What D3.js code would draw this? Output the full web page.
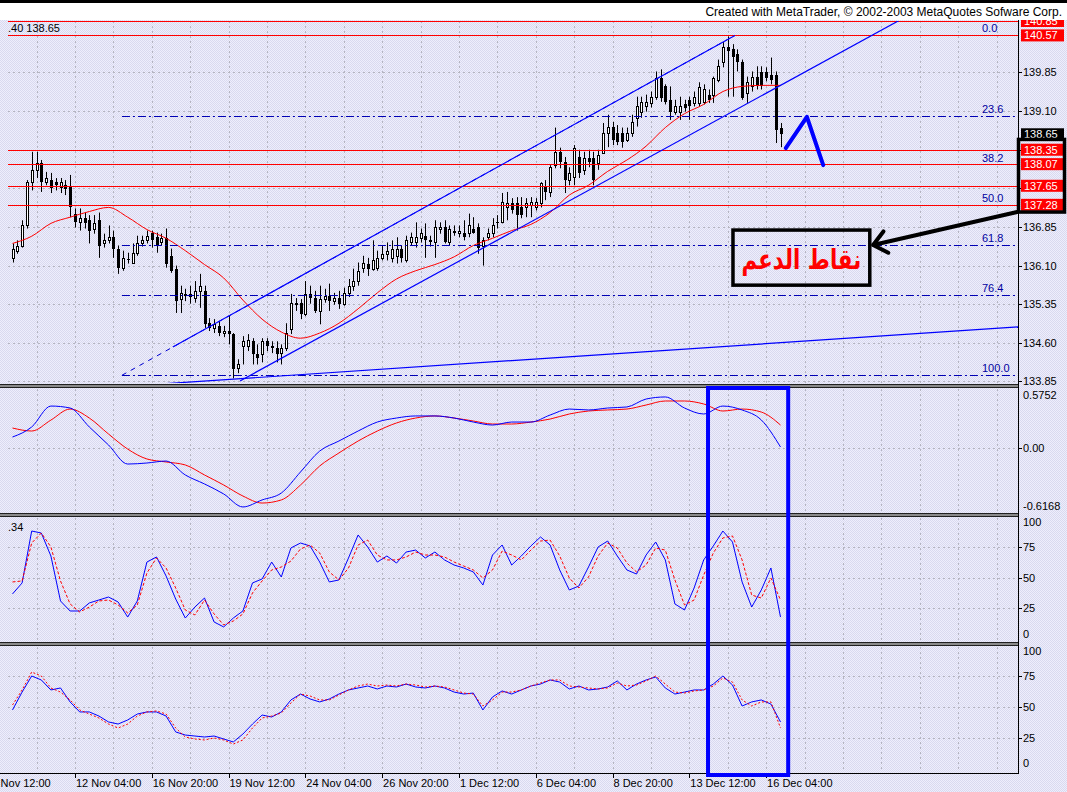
<!DOCTYPE html>
<html>
<head>
<meta charset="utf-8">
<title>USDJPY H4</title>
<script src="https://cdn.jsdelivr.net/npm/d3@7/dist/d3.min.js"></script>
<style>
  body { margin: 0; background: #ffffff; }
  #chart-container svg { display: block; }
  text { font-family: "Liberation Sans", Arial, sans-serif; font-size: 11px; }
</style>
</head>
<body>
<div id="chart-container"></div>
<script>
// ---------- data ----------
// 4H candles, bar index 0 = first visible bar
const barOpen = [
  136.24,136.39,136.49,136.88,137.72,137.96,138.09,137.72,137.76,137.72,
  137.62,137.66,137.62,137.11,136.94,137.02,136.98,136.82,136.98,136.53,
  136.59,136.65,136.43,136.06,136.23,136.16,136.35,136.53,136.59,136.74,
  136.65,136.55,136.63,136.29,136.04,135.45,135.55,135.51,135.47,135.61,
  135.61,134.98,134.89,134.93,134.79,134.83,134.77,134.11,134.54,134.54,
  134.63,134.38,134.38,134.63,134.54,134.50,134.40,134.50,134.87,135.36,
  135.38,135.16,135.55,135.47,135.22,135.45,135.51,135.41,135.47,135.36,
  135.57,135.71,135.80,136.06,136.14,136.04,136.06,136.25,136.33,136.25,
  136.29,136.43,136.20,136.55,136.55,136.63,136.68,136.59,136.55,136.82,
  136.84,136.55,136.78,136.74,136.74,136.74,136.82,136.84,136.49,136.65,
  136.74,136.94,136.94,137.23,137.31,137.31,137.23,137.23,137.27,137.23,
  137.31,137.62,137.53,138.05,138.31,138.11,137.76,137.82,138.21,137.95,
  138.19,138.19,138.09,138.29,138.68,138.80,138.68,138.68,138.54,138.68,
  138.97,139.09,139.19,139.26,139.38,139.75,139.58,139.32,139.09,139.09,
  139.23,139.32,139.26,139.26,139.28,139.42,139.42,139.71,140.05,140.34,
  140.30,140.20,140.05,139.46,139.58,139.77,139.85,139.85,139.81,139.81,
  138.78
];
const barHigh = [
  136.53,136.59,136.98,137.76,138.31,138.31,138.15,137.92,137.90,137.80,
  137.80,137.76,137.86,137.21,137.21,137.13,137.08,137.08,137.13,136.72,
  136.88,136.78,136.49,136.39,136.35,136.53,136.68,136.68,136.78,136.78,
  136.74,136.72,136.82,136.43,136.10,135.71,135.65,135.71,135.80,135.94,
  135.71,135.08,135.06,135.02,134.93,135.12,134.79,134.28,134.73,134.77,
  134.69,134.57,134.69,134.69,134.63,134.63,134.57,134.98,135.55,135.47,
  135.45,135.80,135.71,135.61,135.71,135.65,135.75,135.57,135.61,135.67,
  135.84,136.04,136.16,136.29,136.25,136.59,136.39,136.49,136.55,136.59,
  136.65,136.49,136.68,136.74,136.94,136.82,136.92,136.68,136.98,136.94,
  136.98,136.88,136.88,136.88,136.98,137.11,137.04,136.92,136.65,136.82,
  137.02,137.08,137.51,137.53,137.41,137.43,137.43,137.41,137.43,137.41,
  137.72,137.76,138.05,138.78,138.39,138.21,138.01,138.44,138.35,138.31,
  138.35,138.31,138.35,138.87,139.03,138.89,138.83,138.78,138.78,139.03,
  139.38,139.38,139.42,139.48,139.87,139.91,139.62,139.58,139.32,139.38,
  139.32,139.38,139.48,139.66,139.62,139.52,139.77,140.10,140.44,140.55,
  140.40,140.30,140.10,139.77,139.87,139.97,139.97,139.95,140.14,139.87,
  138.87
];
const barLow = [
  136.16,136.33,136.45,136.82,137.56,137.80,137.53,137.66,137.51,137.56,
  137.51,137.47,137.04,136.84,136.78,136.82,136.53,136.72,136.25,136.45,
  136.53,136.25,135.94,136.00,136.14,136.14,136.29,136.47,136.53,136.45,
  136.35,136.49,136.06,135.96,135.18,135.18,135.41,135.36,135.38,135.28,
  134.89,134.83,134.79,134.73,134.71,134.57,133.91,134.01,134.18,134.44,
  134.18,134.18,134.22,134.44,134.40,134.22,134.18,134.44,134.77,135.22,
  135.06,135.12,135.36,135.18,134.96,135.38,135.22,135.34,135.26,135.32,
  135.49,135.61,135.71,135.96,135.90,136.00,136.00,136.20,136.20,136.16,
  136.14,136.16,136.16,136.49,136.45,136.55,136.25,136.47,136.25,136.72,
  136.53,136.49,136.68,136.65,136.59,136.65,136.72,136.33,136.10,136.59,
  136.65,136.82,136.92,136.98,137.11,136.78,137.02,137.04,137.04,137.17,
  137.23,137.37,137.43,137.99,137.99,137.51,137.66,137.66,137.80,137.86,
  138.01,137.66,137.96,138.29,138.40,138.44,138.44,138.39,138.50,138.60,
  138.80,138.97,139.09,139.17,139.32,139.28,139.23,138.93,139.03,138.93,
  139.09,138.93,139.19,139.19,139.23,139.26,139.26,139.66,139.95,139.38,
  139.38,139.87,139.32,139.26,139.48,139.52,139.52,139.68,139.62,138.48,
  138.40
];
const barClose = [
  136.43,136.49,136.88,137.72,137.96,138.09,137.72,137.80,137.60,137.66,
  137.72,137.58,137.23,136.94,137.02,136.92,136.78,136.92,136.49,136.59,
  136.65,136.43,136.06,136.25,136.20,136.35,136.53,136.59,136.68,136.59,
  136.49,136.63,136.14,136.00,135.41,135.57,135.51,135.55,135.61,135.71,
  134.96,134.89,134.96,134.79,134.83,134.77,134.09,134.18,134.63,134.65,
  134.38,134.30,134.63,134.54,134.50,134.38,134.50,134.79,135.38,135.38,
  135.16,135.55,135.47,135.22,135.45,135.51,135.41,135.47,135.36,135.57,
  135.71,135.80,136.00,136.16,136.04,136.20,136.25,136.33,136.39,136.43,
  136.43,136.25,136.59,136.65,136.65,136.74,136.59,136.55,136.84,136.84,
  136.55,136.82,136.74,136.78,136.65,136.88,136.74,136.45,136.59,136.74,
  136.88,136.92,137.33,137.31,137.17,137.08,137.08,137.31,137.33,137.33,
  137.70,137.53,138.02,138.31,138.11,137.76,137.90,138.39,137.90,138.19,
  138.11,137.76,138.25,138.68,138.80,138.54,138.50,138.50,138.68,138.89,
  139.19,139.28,139.28,139.38,139.75,139.36,139.28,139.09,139.19,139.19,
  139.17,139.19,139.38,139.56,139.52,139.32,139.75,139.97,140.34,140.26,
  140.16,140.05,139.36,139.66,139.77,139.58,139.58,139.75,139.71,138.74,
  138.65
];

// red moving average, read every 4 bars
const maStep = 4;
const maValues = [
  136.53,136.67,136.92,137.04,137.15,137.23,137.04,136.80,136.63,136.39,
  136.12,135.86,135.43,135.06,134.81,134.69,134.79,134.98,135.26,135.57,
  135.84,136.00,136.12,136.27,136.49,136.63,136.78,136.90,137.13,137.47,
  137.66,137.93,138.15,138.42,138.78,139.05,139.23,139.48,139.58,139.60,
  139.60
];

// first indicator window (blue / red), read every 4 bars
const oscStep = 4;
const oscMain = [
  0.110,0.207,0.410,0.391,0.207,0.033,-0.152,-0.142,-0.123,-0.258,
  -0.345,-0.442,-0.568,-0.500,-0.433,-0.229,-0.026,0.071,0.168,0.255,
  0.294,0.314,0.314,0.294,0.255,0.226,0.255,0.255,0.323,0.381,
  0.372,0.391,0.401,0.478,0.498,0.391,0.333,0.410,0.372,0.275,
  0.013
];
const oscSignal = [
  0.197,0.168,0.274,0.381,0.294,0.139,-0.007,-0.103,-0.132,-0.161,
  -0.258,-0.355,-0.462,-0.530,-0.500,-0.355,-0.171,-0.045,0.071,0.168,
  0.246,0.294,0.314,0.294,0.265,0.236,0.236,0.255,0.284,0.333,
  0.362,0.372,0.381,0.420,0.459,0.459,0.430,0.362,0.381,0.352,
  0.226
];
const oscMax = 0.5752, oscMin = -0.6168;

// stochastic window, read every 2 bars
const stochStep = 2;
const stochMain = [
  36.7,45.6,87.6,86.0,67.4,31.0,22.9,22.9,29.4,31.8,
  34.2,30.2,18.0,31.0,62.5,66.6,51.2,32.6,17.2,26.1,
  33.4,14.0,10.0,17.2,22.9,45.6,48.8,62.5,50.4,73.9,
  77.9,75.5,62.5,46.4,48.0,65.8,84.4,74.7,62.5,67.4,
  61.7,70.6,72.2,65.8,70.6,64.2,60.1,57.7,54.5,43.9,
  68.2,76.3,60.1,67.4,75.5,82.8,76.3,56.1,39.9,43.1,
  58.5,74.7,79.5,67.4,56.1,52.8,68.2,78.7,64.2,28.6,
  23.7,41.5,64.2,75.5,87.6,78.7,46.4,26.1,39.9,57.7,
  18.0
];
const stochSignal = [
  46.4,47.2,77.9,86.0,74.7,47.2,28.6,22.1,26.1,31.0,
  31.8,27.8,21.3,27.8,53.6,65.8,57.7,41.5,23.7,19.7,
  31.8,20.5,11.6,14.8,20.5,37.5,47.2,56.1,58.5,63.3,
  73.1,76.3,69.8,54.5,48.0,57.7,76.3,80.3,68.2,64.2,
  64.2,66.6,70.6,68.2,68.2,66.6,62.5,59.3,56.1,49.6,
  56.1,71.4,68.2,64.2,72.2,79.5,80.3,67.4,49.6,41.5,
  50.4,67.4,77.9,73.9,61.7,54.5,60.1,73.9,72.2,48.0,
  27.8,31.8,52.0,69.8,82.0,83.6,64.2,35.8,33.4,49.6,
  31.8
];

// RSI-type window, read every 2 bars
const rsiStep = 2;
const rsiMain = [
  47.8,62.3,75.3,72.1,64.0,65.6,54.3,46.2,46.2,42.9,
  38.1,36.4,39.7,44.5,46.2,46.2,42.9,30.0,27.5,26.7,
  25.9,26.7,24.3,21.9,28.3,36.4,43.7,42.1,46.2,55.9,
  60.7,56.7,54.3,56.7,60.7,64.0,65.6,67.2,64.8,67.2,
  66.4,68.8,66.4,65.6,67.2,65.6,62.3,60.7,61.5,47.8,
  58.3,63.2,60.7,64.0,67.2,68.8,72.1,70.4,64.8,67.2,
  64.0,64.8,66.4,71.3,64.0,68.8,72.1,74.5,65.6,60.7,
  62.3,64.0,64.0,68.8,75.3,68.0,51.0,54.3,55.9,52.6,
  38.1
];
const rsiSignal = [
  51.8,64.0,78.5,75.3,65.6,62.3,55.9,47.8,44.5,41.3,
  36.4,33.2,36.4,42.9,46.2,47.0,44.5,33.2,25.9,24.3,
  23.5,25.1,23.5,20.2,23.5,33.2,41.3,42.9,45.3,53.4,
  60.7,59.1,55.9,55.9,59.9,64.0,67.2,68.8,67.2,68.0,
  67.2,68.8,68.0,66.4,67.2,66.4,64.0,61.5,60.7,51.0,
  55.9,62.3,62.3,64.0,67.2,69.6,72.1,72.1,67.2,66.4,
  65.6,64.8,65.6,69.6,67.2,68.0,71.3,75.3,68.8,62.3,
  61.5,63.2,64.0,67.2,73.7,70.4,55.9,51.0,54.3,54.3,
  33.2
];

const timeLabels = ["9 Nov 12:00","12 Nov 04:00","16 Nov 20:00","19 Nov 12:00","24 Nov 04:00",
  "26 Nov 20:00","1 Dec 12:00","6 Dec 04:00","8 Dec 20:00","13 Dec 12:00","16 Dec 04:00"];
const timeLabelBars = [-4.6,13,29,45,61,77,93,109,125,141,157];
const priceTicks = [139.85,139.10,138.35,137.60,136.85,136.10,135.35,134.60,133.85];
const levelLines = [140.85,140.57,138.35,138.07,137.65,137.28];   // red support / resistance
const lastPrice = 138.65;
const fibHigh = 140.57, fibLow = 133.97;
const fibStartBar = 22.8, fibEndBar = 150.5;
const fibRatios = [0.0, 23.6, 38.2, 50.0, 61.8, 76.4, 100.0];
// trend lines: [bar, price] -> [bar, price]
const trendLines = [
  [[33.4, 134.52], [150.5, 140.57]],
  [[47.4, 133.86], [184.9, 140.87]],
  [[30.7, 133.80], [209.5, 134.91]]
];
const handDrawn = [[161.1, 138.38], [165.5, 138.99], [168.9, 138.05]];
const noteText = "نقاط الدعم";
const noteBox = { bar0: 150.1, bar1: 178.6, pTop: 136.79, pBottom: 135.72 };
const noteArrow = { tipBar: 179.3, tipPrice: 136.50, tailBar: 209.3, tailPrice: 137.14 };
const focusBars = [144.9, 161.6];

// ---------- layout ----------
const W = 1067, H = 792;
const plotL = 8, plotR = 1018;
const panes = {
  main:  [21, 383],
  osc:   [389, 512],
  stoch: [518, 641],
  rsi:   [647, 772]
};

const svg = d3.select("#chart-container").append("svg")
  .attr("width", W).attr("height", H);
const defs = svg.append("defs");

// dithered lavender background like the terminal screenshot
const pat = defs.append("pattern").attr("id", "dither")
  .attr("width", 2).attr("height", 2).attr("patternUnits", "userSpaceOnUse");
pat.append("rect").attr("width", 2).attr("height", 2).attr("fill", "#eeeefc");
pat.append("rect").attr("width", 1).attr("height", 1).attr("fill", "#d9d9ef");
pat.append("rect").attr("x", 1).attr("y", 1).attr("width", 1).attr("height", 1).attr("fill", "#d9d9ef");

Object.keys(panes).forEach(k => {
  defs.append("clipPath").attr("id", "clip-" + k).append("rect")
    .attr("x", plotL).attr("y", panes[k][0])
    .attr("width", plotR - plotL).attr("height", panes[k][1] - panes[k][0]);
});
defs.append("clipPath").attr("id", "clip-axis").append("rect")
  .attr("x", plotR).attr("y", 20).attr("width", W - plotR).attr("height", H - 20);

svg.append("rect").attr("width", W).attr("height", H).attr("fill", "url(#dither)");
svg.append("rect").attr("width", W).attr("height", 20).attr("fill", "#ffffff");
svg.append("rect").attr("width", W).attr("height", 3).attr("fill", "#000000");
svg.append("text").attr("x", 1062).attr("y", 16).attr("text-anchor", "end")
  .style("font-size", "12px")
  .text("Created with MetaTrader, \u00a9 2002-2003 MetaQuotes Sofware Corp.");

// scales
const x = d3.scaleLinear().domain([0, 160]).range([12.5, 780.5]);
const yMain = d3.scaleLinear().domain([133.82, 140.85]).range([383, 21]);
const yOsc = d3.scaleLinear().domain([oscMin, oscMax]).range([512, 389]);
const yStoch = d3.scaleLinear().domain([0, 100]).range([639.3, 515.7]);
const yRsi = d3.scaleLinear().domain([0, 100]).range([769, 645.5]);

const gridColor = "#b4b4c0";

// vertical grid in every pane
const gridBars = d3.range(5, 220, 8).filter(b => x(b) < plotR);
Object.keys(panes).forEach(k => {
  svg.append("g").selectAll("line").data(gridBars).enter().append("line")
    .attr("x1", b => Math.round(x(b)) + 0.5).attr("x2", b => Math.round(x(b)) + 0.5)
    .attr("y1", panes[k][0]).attr("y2", panes[k][1])
    .attr("stroke", gridColor).attr("stroke-dasharray", "2,3");
});

function hGrid(scale, values) {
  svg.append("g").selectAll("line").data(values).enter().append("line")
    .attr("x1", plotL).attr("x2", plotR)
    .attr("y1", d => Math.round(scale(d)) + 0.5).attr("y2", d => Math.round(scale(d)) + 0.5)
    .attr("stroke", gridColor).attr("stroke-dasharray", "2,3");
}
hGrid(yMain, priceTicks);
hGrid(yOsc, [0]);
hGrid(yStoch, [25, 50, 75]);
hGrid(yRsi, [25, 50, 75]);

// ---------- main window ----------
const gMain = svg.append("g").attr("clip-path", "url(#clip-main)");
const bars = d3.range(barOpen.length);
const isUp = i => barClose[i] >= barOpen[i];

gMain.selectAll(".wick").data(bars).enter().append("line")
  .attr("x1", i => Math.round(x(i)) + 0.5).attr("x2", i => Math.round(x(i)) + 0.5)
  .attr("y1", i => yMain(barHigh[i])).attr("y2", i => yMain(barLow[i]))
  .attr("stroke", "#000");

gMain.selectAll(".body").data(bars).enter().append("rect")
  .attr("x", i => isUp(i) ? Math.round(x(i)) - 0.5 : Math.round(x(i)) - 1)
  .attr("width", i => isUp(i) ? 2 : 3)
  .attr("y", i => Math.round(yMain(Math.max(barOpen[i], barClose[i]))) + (isUp(i) ? 0.5 : 0))
  .attr("height", i => Math.max(1, Math.round(yMain(Math.min(barOpen[i], barClose[i]))) - Math.round(yMain(Math.max(barOpen[i], barClose[i])))))
  .attr("fill", i => isUp(i) ? "#ffffff" : "#000000")
  .attr("stroke", i => isUp(i) ? "#000000" : "none");

// moving average
gMain.append("path").datum(maValues)
  .attr("fill", "none").attr("stroke", "#ff0000").attr("stroke-width", 1)
  .attr("d", d3.line().x((d, k) => x(k * maStep)).y(d => yMain(d)).curve(d3.curveMonotoneX));

// fibonacci retracement (levels sitting on a red line are hidden under it)
const fibPrice = r => fibHigh - r / 100 * (fibHigh - fibLow);
const fibRow = r => Math.round(yMain(fibPrice(r))) + 0.5;
const fibVisible = fibRatios.filter(r => levelLines.every(p => Math.abs(yMain(p) - yMain(fibPrice(r))) > 1.5));
gMain.selectAll(".fib").data(fibVisible).enter().append("line")
  .attr("x1", x(fibStartBar)).attr("x2", plotR)
  .attr("y1", fibRow).attr("y2", fibRow)
  .attr("stroke", "#0000b4").attr("stroke-dasharray", "8,3,2,3");
gMain.append("line")
  .attr("x1", x(fibStartBar)).attr("y1", yMain(fibLow))
  .attr("x2", x(fibEndBar)).attr("y2", yMain(fibHigh))
  .attr("stroke", "#0000d0").attr("stroke-dasharray", "5,5");
gMain.selectAll(".fibLabel").data(fibRatios).enter().append("text")
  .attr("x", plotR - 36).attr("y", r => yMain(fibPrice(r)) - 3)
  .attr("fill", "#0000a0")
  .text(r => r.toFixed(1));

// red horizontal levels
gMain.selectAll(".level").data(levelLines).enter().append("line")
  .attr("x1", plotL).attr("x2", plotR)
  .attr("y1", p => Math.round(yMain(p)) + 0.5).attr("y2", p => Math.round(yMain(p)) + 0.5)
  .attr("stroke", "#ff0000");

// channel / trend lines
gMain.selectAll(".trend").data(trendLines).enter().append("line")
  .attr("x1", d => x(d[0][0])).attr("y1", d => yMain(d[0][1]))
  .attr("x2", d => x(d[1][0])).attr("y2", d => yMain(d[1][1]))
  .attr("stroke", "#0000ff").attr("stroke-width", 1.2);

// hand drawn pattern
gMain.append("path").datum(handDrawn)
  .attr("fill", "none").attr("stroke", "#0000ff").attr("stroke-width", 4)
  .attr("stroke-linejoin", "round").attr("stroke-linecap", "round")
  .attr("d", d3.line().x(d => x(d[0])).y(d => yMain(d[1])));

// note box and arrow
gMain.append("rect")
  .attr("x", x(noteBox.bar0)).attr("y", yMain(noteBox.pTop))
  .attr("width", x(noteBox.bar1) - x(noteBox.bar0))
  .attr("height", yMain(noteBox.pBottom) - yMain(noteBox.pTop))
  .attr("fill", "none").attr("stroke", "#000").attr("stroke-width", 3.5);
gMain.append("text")
  .attr("transform", `translate(${(x(noteBox.bar0) + x(noteBox.bar1)) / 2},${yMain(noteBox.pBottom) - 16}) scale(0.76,1)`)
  .attr("text-anchor", "middle")
  .style("font-family", "'DejaVu Sans', sans-serif").style("font-size", "28px").style("font-weight", "bold")
  .attr("fill", "#ff0000")
  .text(noteText);

const tipX = x(noteArrow.tipBar), tipY = yMain(noteArrow.tipPrice);
const tailX = x(noteArrow.tailBar), tailY = yMain(noteArrow.tailPrice);
const ang = Math.atan2(tailY - tipY, tailX - tipX);
const armLen = 17, armAng = 40 * Math.PI / 180;
svg.append("path")
  .attr("d", `M${tailX},${tailY}L${tipX},${tipY}` +
    `M${tipX + armLen * Math.cos(ang - armAng)},${tipY + armLen * Math.sin(ang - armAng)}L${tipX},${tipY}` +
    `L${tipX + armLen * Math.cos(ang + armAng)},${tipY + armLen * Math.sin(ang + armAng)}`)
  .attr("fill", "none").attr("stroke", "#000").attr("stroke-width", 4)
  .attr("stroke-linecap", "round").attr("stroke-linejoin", "round");

svg.append("text").attr("x", plotL).attr("y", 32).text(".40 138.65");

// ---------- indicator windows ----------
function indicatorLine(g, values, step, scale, color, dash, curve) {
  g.append("path").datum(values)
    .attr("fill", "none").attr("stroke", color).attr("stroke-width", 1)
    .attr("stroke-dasharray", dash || null)
    .attr("d", d3.line().x((d, k) => x(k * step)).y(d => scale(d)).curve(curve || d3.curveLinear));
}
const gOsc = svg.append("g").attr("clip-path", "url(#clip-osc)");
indicatorLine(gOsc, oscSignal, oscStep, yOsc, "#ff0000", null, d3.curveMonotoneX);
indicatorLine(gOsc, oscMain, oscStep, yOsc, "#0000ff", null, d3.curveMonotoneX);

const gSto = svg.append("g").attr("clip-path", "url(#clip-stoch)");
indicatorLine(gSto, stochMain, stochStep, yStoch, "#0000ff");
indicatorLine(gSto, stochSignal, stochStep, yStoch, "#ff0000", "3,2");
svg.append("text").attr("x", plotL).attr("y", 531).text(".34");

const gRsi = svg.append("g").attr("clip-path", "url(#clip-rsi)");
indicatorLine(gRsi, rsiMain, rsiStep, yRsi, "#0000ff");
indicatorLine(gRsi, rsiSignal, rsiStep, yRsi, "#ff0000", "2,2");

// ---------- frames, dividers, axes ----------
[383, 512, 641].forEach(yd => {
  svg.append("rect").attr("x", 0).attr("y", yd + 1).attr("width", plotR).attr("height", 4).attr("fill", "#8a8a8a");
  svg.append("line").attr("x1", 0).attr("x2", plotR).attr("y1", yd + 1.5).attr("y2", yd + 1.5).attr("stroke", "#202020");
  svg.append("line").attr("x1", 0).attr("x2", plotR).attr("y1", yd + 4.5).attr("y2", yd + 4.5).attr("stroke", "#202020");
});
svg.append("line").attr("x1", plotR + 0.5).attr("x2", plotR + 0.5).attr("y1", 20).attr("y2", 774).attr("stroke", "#000");
svg.append("line").attr("x1", 0).attr("x2", plotR + 1).attr("y1", 773.5).attr("y2", 773.5).attr("stroke", "#000");

// price axis (labels hidden by the red level boxes are left out, as in the terminal)
const axisG = svg.append("g").attr("clip-path", "url(#clip-axis)");
const boxed = levelLines.concat([lastPrice]);
const freeTicks = priceTicks.filter(p => boxed.every(b => Math.abs(yMain(b) - yMain(p)) > 9));
axisG.selectAll(".pt").data(priceTicks).enter().append("line")
  .attr("x1", plotR).attr("x2", plotR + 4)
  .attr("y1", p => Math.round(yMain(p)) + 0.5).attr("y2", p => Math.round(yMain(p)) + 0.5)
  .attr("stroke", "#000");
axisG.selectAll(".pl").data(freeTicks).enter().append("text")
  .attr("x", plotR + 5).attr("y", p => yMain(p) + 4).text(p => p.toFixed(2));

// red price labels + last price
axisG.selectAll(".lvl").data(levelLines).enter().append("rect")
  .attr("x", plotR + 3).attr("y", p => yMain(p) - 6).attr("width", 43).attr("height", 12).attr("fill", "#ff0000");
axisG.selectAll(".lvlt").data(levelLines).enter().append("text")
  .attr("x", plotR + 6).attr("y", p => yMain(p) + 4).attr("fill", "#ffffff").text(p => p.toFixed(2));
axisG.append("rect").attr("x", plotR + 3).attr("y", yMain(lastPrice) - 6).attr("width", 43).attr("height", 12).attr("fill", "#000");
axisG.append("text").attr("x", plotR + 6).attr("y", yMain(lastPrice) + 4).attr("fill", "#fff").text(lastPrice.toFixed(2));

// black frame around the support labels
svg.append("rect")
  .attr("x", plotR + 0.5).attr("y", yMain(138.55))
  .attr("width", 46).attr("height", yMain(137.14) - yMain(138.55))
  .attr("fill", "none").attr("stroke", "#000").attr("stroke-width", 3.5);

// indicator scales
function sideLabel(yv, txt, tick) {
  if (tick) svg.append("line").attr("x1", plotR).attr("x2", plotR + 4)
    .attr("y1", Math.round(yv) + 0.5).attr("y2", Math.round(yv) + 0.5).attr("stroke", "#000");
  svg.append("text").attr("x", plotR + 5).attr("y", yv + 4).text(txt);
}
sideLabel(yOsc(oscMax) + 6, oscMax.toFixed(4), false);
sideLabel(yOsc(0), "0.00", true);
sideLabel(yOsc(oscMin) - 6, oscMin.toFixed(4), false);
[[yStoch, 518, 638], [yRsi, 647, 767]].forEach(([sc, top, bot]) => {
  sideLabel(top + 4, "100", false);
  [75, 50, 25].forEach(v => sideLabel(sc(v), String(v), true));
  sideLabel(bot - 4, "0", false);
});

// time axis
svg.append("g").selectAll("line").data(timeLabelBars).enter().append("line")
  .attr("x1", b => Math.round(x(b)) + 0.5).attr("x2", b => Math.round(x(b)) + 0.5)
  .attr("y1", 773).attr("y2", 778).attr("stroke", "#000");
svg.append("g").selectAll("text").data(timeLabels).enter().append("text")
  .attr("x", (d, k) => x(timeLabelBars[k]) + 1).attr("y", 787)
  .text(d => d);

// focus rectangle over the indicator windows
svg.append("rect")
  .attr("x", x(focusBars[0])).attr("y", panes.osc[0] - 1)
  .attr("width", x(focusBars[1]) - x(focusBars[0]))
  .attr("height", 775 - panes.osc[0] + 1)
  .attr("fill", "none").attr("stroke", "#0000ff").attr("stroke-width", 4);
</script>
</body>
</html>
